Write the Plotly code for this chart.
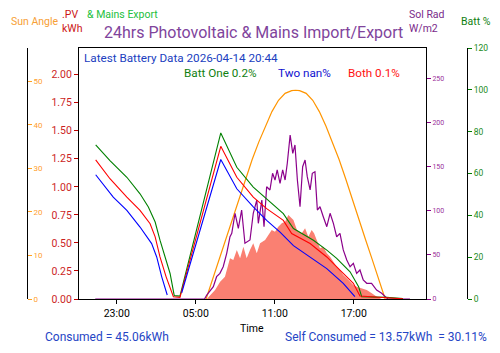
import plotly.graph_objects as go

DAY1, DAY2 = "2026-04-13", "2026-04-14"

def ts(hm):
    h, m = map(int, hm.split(":"))
    day = DAY1 if h * 60 + m >= 21 * 60 + 20 else DAY2
    return f"{day} {hm}"

# ---- Battery lines (Batt %) ----
green_t = ["21:24", "22:29", "23:46", "00:46", "01:24", "01:55", "02:17", "02:45", "03:03", "03:22", "03:48",
           "06:54", "08:07", "09:22", "10:23", "11:39", "12:25", "13:56", "14:57", "15:42", "16:43", "17:22",
           "17:36", "19:30", "20:44"]
green_v = [73.7, 66.2, 58.2, 50.3, 44.0, 36.8, 28.1, 18.6, 12.2, 1.6, 1.4,
           79.4, 63.0, 53.5, 48.0, 40.8, 33.7, 28.1, 23.4, 19.4, 13.0, 5.9,
           1.1, 0.8, 0.2]

red_t = ["21:24", "22:29", "23:46", "00:46", "01:32", "01:55", "02:17", "02:45", "03:18", "03:48",
         "06:54", "08:07", "09:22", "10:23", "11:39", "12:17", "13:41", "14:57", "15:57", "16:58", "17:28",
         "19:30", "20:44"]
red_v = [66.5, 57.5, 48.7, 42.4, 36.0, 29.7, 20.1, 10.6, 1.1, 0.8,
         73.0, 58.2, 48.7, 43.2, 37.6, 31.3, 26.5, 20.1, 13.8, 7.5, 1.4,
         0.5, 0.1]

blue_t = ["21:24", "22:44", "23:46", "00:46", "01:39", "02:02", "02:25", "02:50", "03:20", "03:56",
          "06:54", "08:07", "09:22", "10:23", "11:24", "12:25", "13:08", "14:00", "14:57", "16:12", "17:05"]
blue_v = [59.4, 48.7, 42.4, 34.4, 26.5, 20.1, 10.6, 1.9, None, 3.0,
          66.7, 52.7, 44.0, 37.6, 32.0, 25.5, 22.5, 18.6, 14.5, 7.5, 1.1]

# ---- Sun angle (deg) ----
sun_t = ["05:47", "06:17", "06:47", "07:17", "07:47", "08:14", "08:47", "09:17", "09:47", "10:17", "10:47",
         "11:17", "11:47", "12:17", "12:35", "12:53", "13:23", "13:53", "14:23", "14:53", "15:23", "15:53",
         "16:23", "16:56", "17:23", "17:53", "18:23", "18:53", "19:23"]
sun_v = [0, 4.6, 9.2, 13.7, 18.2, 22.7, 27.6, 32.0, 36.0, 39.7, 43.0,
         45.6, 47.2, 47.8, 47.9, 47.8, 47.2, 45.6, 43.0, 39.7, 36.0, 32.0,
         27.6, 22.7, 18.2, 13.7, 9.2, 4.6, 0]

# ---- Solar radiation (W/m2) ----
rad_t = ["21:22", "05:40", "05:50", "06:20", "06:35", "06:50", "07:05", "07:21", "07:36", "07:44", "07:59",
         "08:14", "08:29", "08:44", "09:07", "09:22", "09:38", "09:45", "10:01", "10:11", "10:23", "10:38",
         "10:50", "11:01", "11:11", "11:24", "11:36", "11:47", "11:57", "12:10", "12:22", "12:32", "12:43",
         "12:55", "13:07", "13:18", "13:28", "13:41", "13:51", "14:03", "14:14", "14:26", "14:41", "14:57",
         "15:12", "15:27", "15:42", "15:57", "16:12", "16:28", "16:43", "16:58", "17:13", "17:28", "17:43",
         "17:59", "18:21", "18:44", "19:07", "19:22", "19:35", "21:16"]
rad_v = [0, 0, 4.5, 13.9, 25.3, 29.1, 36.6, 51.8, 70.6, 74.5, 97.2,
         80.0, 100.9, 63.2, 66.9, 97.2, 112.2, 85.8, 112.2, 82.0, 127.3, 123.6,
         142.5, 134.9, 146.3, 131.2, 146.3, 134.9, 153.9, 185.9, 165.2, 174.6, 134.9,
         104.6, 150.0, 157.6, 138.7, 123.6, 142.5, 144.3, 100.9, 104.6, 93.3, 82.0,
         97.2, 85.8, 70.6, 74.5, 55.6, 44.2, 36.6, 40.5, 29.1, 32.9, 21.5,
         17.8, 17.8, 10.2, 6.5, 2.6, 0, 0]

# ---- PV kWh (filled) ----
pv_t = ["05:50", "06:28", "06:51", "07:13", "07:36", "07:51", "08:07", "08:22", "08:37", "08:52", "09:07",
        "09:22", "09:38", "09:53", "10:16", "10:31", "10:46", "11:01", "11:16", "11:32", "11:47", "12:02",
        "12:10", "12:25", "12:41", "13:03", "13:18", "13:33", "13:48", "13:59", "14:11", "14:26", "14:41",
        "14:57", "15:12", "15:27", "15:42", "15:57", "16:12", "16:28", "16:43", "16:58", "17:13", "17:36",
        "17:59", "18:22", "18:45", "19:07"]
pv_v = [0, 0.080, 0.154, 0.199, 0.363, 0.348, 0.437, 0.363, 0.466, 0.363, 0.437,
        0.496, 0.407, 0.496, 0.526, 0.570, 0.615, 0.600, 0.644, 0.675, 0.689, 0.749,
        0.733, 0.704, 0.615, 0.586, 0.630, 0.555, 0.615, 0.586, 0.526, 0.452, 0.466,
        0.407, 0.377, 0.332, 0.288, 0.258, 0.214, 0.184, 0.154, 0.125, 0.110, 0.095,
        0.080, 0.051, 0.020, 0]

W, H = 500, 353
XL, XR, YT, YB = 79, 426, 48, 299

fig = go.Figure()
fig.add_trace(go.Scatter(x=[ts(t) for t in pv_t], y=pv_v, mode="lines", fill="tozeroy",
                         fillcolor="#fa8072", line=dict(width=0, color="#fa8072"), yaxis="y"))
fig.add_trace(go.Scatter(x=[ts(t) for t in sun_t], y=sun_v, mode="lines",
                         line=dict(width=1.2, color="#ff9500"), yaxis="y2"))
fig.add_trace(go.Scatter(x=[ts(t) for t in rad_t], y=rad_v, mode="lines",
                         line=dict(width=1.2, color="#8b008b"), yaxis="y3"))
fig.add_trace(go.Scatter(x=[ts(t) for t in green_t], y=green_v, mode="lines",
                         line=dict(width=1.1, color="#008000"), yaxis="y4"))
fig.add_trace(go.Scatter(x=[ts(t) for t in red_t], y=red_v, mode="lines",
                         line=dict(width=1.1, color="#ff0000"), yaxis="y4"))
fig.add_trace(go.Scatter(x=[ts(t) for t in blue_t], y=blue_v, mode="lines", connectgaps=False,
                         line=dict(width=1.1, color="#0000ff"), yaxis="y4"))

FONT = "Roboto"
fig.update_layout(
    width=W, height=H, autosize=False,
    margin=dict(l=0, r=0, t=0, b=0, pad=0, autoexpand=False),
    paper_bgcolor="white", plot_bgcolor="white", showlegend=False,
    font=dict(family=FONT, size=11, color="black"),
    xaxis=dict(domain=[XL / W, XR / W], type="date", automargin=False,
               range=[f"{DAY1} 20:08", f"{DAY2} 22:29"],
               tick0=f"{DAY1} 23:00", dtick=6 * 3600 * 1000, tickformat="%H:%M",
               ticks="outside", ticklen=4, tickcolor="black", tickfont=dict(size=10.5),
               showline=True, linecolor="black", linewidth=1, mirror=True,
               showgrid=False, zeroline=False),
    yaxis=dict(domain=[1 - YB / H, 1 - YT / H], range=[0, 2.238], side="left", automargin=False,
               tickvals=[0, 0.25, 0.5, 0.75, 1.0, 1.25, 1.5, 1.75, 2.0], tickformat=".2f",
               ticks="outside", ticklen=4, tickcolor="#c00000",
               tickfont=dict(size=10.5, color="#cc1f1f"),
               showline=True, linecolor="black", linewidth=1, mirror=True,
               showgrid=False, zeroline=False),
    yaxis2=dict(overlaying="y", anchor="free", position=27 / W, side="right", range=[0, 57.6],
                automargin=False,
                tickvals=[0, 10, 20, 30, 40, 50], ticks="outside", ticklen=4, tickcolor="#ffa020",
                tickfont=dict(size=8, color="#ffa030"),
                showline=True, linecolor="black", linewidth=1, showgrid=False, zeroline=False),
    yaxis3=dict(overlaying="y", anchor="x", side="right", range=[0, 284.6], automargin=False,
                tickvals=[0, 50, 100, 150, 200, 250], ticks="outside", ticklen=4, tickcolor="#8b008b",
                tickfont=dict(size=7, color="#9b309b"),
                showline=False, showgrid=False, zeroline=False),
    yaxis4=dict(overlaying="y", anchor="free", position=467 / W, side="right", range=[0, 120],
                automargin=False,
                tickvals=[0, 20, 40, 60, 80, 100, 120], ticks="outside", ticklen=4, tickcolor="#008000",
                tickfont=dict(size=8.5, color="#1a8a1a"),
                showline=True, linecolor="black", linewidth=1, showgrid=False, zeroline=False),
)

def ann(text, x, y, color, size, xanchor="left", yanchor="middle"):
    fig.add_annotation(text=text, x=x / W, y=1 - y / H, xref="paper", yref="paper",
                       xanchor=xanchor, yanchor=yanchor, showarrow=False, borderpad=0,
                       font=dict(family=FONT, size=size, color=color), align="left")

ann("24hrs Photovoltaic &amp; Mains Import/Export", 253, 33, "#80449c", 16, xanchor="center")
ann("Sun Angle", 10, 21, "#f7a035", 10.5)
ann(".PV<br>kWh", 61, 21, "#cc1515", 10.5)
ann("&amp; Mains Export", 86, 14, "#22c040", 10.5)
ann("Sol Rad<br>W/m2", 408, 21, "#7a2a8a", 10.5)
ann("Batt %", 460, 21, "#108010", 10.5)
ann("Latest Battery Data 2026-04-14 20:44", 83, 58, "#2040c0", 11.7)
ann("Batt One 0.2%", 183, 73, "#108010", 11.7)
ann("Two nan%", 277, 73, "#1010d0", 11.7)
ann("Both 0.1%", 347, 73, "#ff1010", 11.7)
ann("Time", 252, 328, "black", 10.5, xanchor="center")
ann("Consumed = 45.06kWh", 44, 337, "#2545c5", 12)
ann("Self Consumed = 13.57kWh\u00a0 = 30.11%", 488, 337, "#2545c5", 12, xanchor="right")

fig.write_html("out.html")
